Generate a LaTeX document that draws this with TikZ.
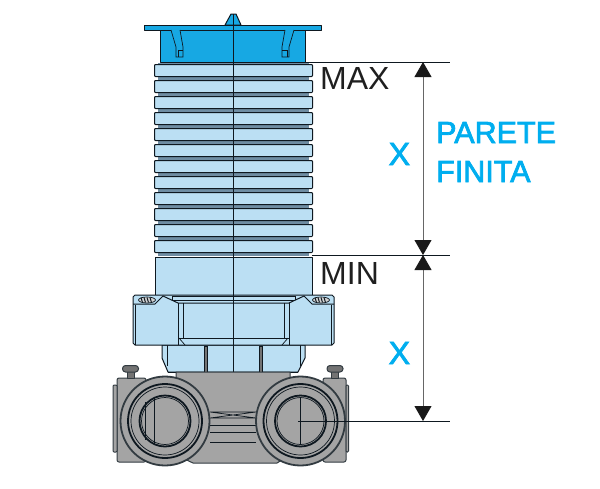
\documentclass[tikz,border=0pt]{standalone}
\usepackage{fontspec}
\setmainfont{Liberation Sans}
\newfontfamily\labelfont[FakeBold=2.5]{Liberation Sans}
\usetikzlibrary{arrows.meta, positioning, calc}
\definecolor{skin}{HTML}{BBDFF3}
\definecolor{cap}{HTML}{17A8E3}
\definecolor{groove}{HTML}{6F8DA3}
\definecolor{metal}{HTML}{A4A4A4}
\definecolor{ink}{HTML}{0E1820}
\definecolor{label}{HTML}{00AEEF}

\begin{document}
\begin{tikzpicture}[
  x=1pt, y=-1pt,
  part/.style={draw=ink, line width=1pt, line join=round},
  thin part/.style={draw=ink, line width=0.7pt},
  rib/.style={part, fill=skin, rounded corners=0.8pt},
  grey part/.style={draw=ink!85, fill=metal, line width=1pt, line join=round},
  ring/.style={draw=ink, line width=1.8pt},
  dim/.style={draw=black!60, line width=0.8pt},
  span/.style={dim, {Triangle[length=15pt, width=17pt, color=black!90]}-{Triangle[length=15pt, width=17pt, color=black!90]}},
  word/.style={font=\fontsize{32}{32}\selectfont, text=black!88, inner sep=0pt, anchor=base west},
  side/.style={font=\labelfont\fontsize{30.5}{30.5}\selectfont, text=label, inner sep=0pt, anchor=base west}
]
  \useasboundingbox (0,0) rectangle (600,488);

  % Top cap
  \draw[part, fill=cap] (160,30) rectangle (305,62);
  \draw[part, fill=cap] (225,25) -- (231,14) -- (236,14) -- (241,25) -- cycle;
  \draw[part, fill=cap] (144,25.5) rectangle (321,30);
  \foreach \m/\s in {177/1, 288/-1} {
    \draw[thin part, fill=cap] (\m-6*\s,30) -- (\m-1*\s,47) -- (\m-1*\s,57) -- (\m+6*\s,57)
      -- (\m+6*\s,47) -- (\m+3*\s,30);
    \draw[thin part] (\m+1*\s,57) -- (\m+1*\s,50) -- (\m+6*\s,50);
  }

  % Bellows
  \foreach \r in {0,...,11} {
    \fill[groove] (158,{62.5+16*\r}) rectangle (309,{80+16*\r});
    \draw[rib] (154.5,{64.5+16*\r}) rectangle (312.5,{76.5+16*\r});
  }
  \draw[part, fill=skin] (155,257) rectangle (312,295);

  % Lower pipe under the collar
  \draw[part, fill=skin] (162,345) -- (162,358) -- (168,372) -- (298,372) -- (305,358) -- (305,345) -- cycle;
  \draw[thin part] (167,345) -- (167,366) (300,345) -- (300,366);
  \draw[part] (168,372) -- (298,372);
  \foreach \m in {206, 261}
    \draw[thin part, fill=metal!70!black] (\m-1.8,346) rectangle (\m+1.8,372);

  % Collar
  \draw[part, fill=skin] (133,297) -- (135,295) -- (332,295) -- (334,297) -- (334,343)
    -- (332,345) -- (135,345) -- (133,343) -- cycle;
  \draw[thin part] (135,305) -- (135,345) (331.5,305) -- (331.5,345);
  \draw[part] (133,304) -- (155,304) -- (163,296) -- (178,303) -- (289,303) -- (304,296) -- (312,304) -- (334,304);
  \draw[part] (172,296) -- (295,296) (172,296) -- (172,300) (295,296) -- (295,300) (172,300) -- (295,300);
  \draw[part] (178,303) -- (178,345) (289,303) -- (289,345);
  \draw[thin part] (183,303) -- (183,338) (284,303) -- (284,338);
  \draw[part] (178,338) -- (289,338);
  \draw[thin part] (179,338) -- (185,345) (288,338) -- (282,345);
  \foreach \m in {147, 321} {
    \draw[thin part, fill=metal!50] (\m,300) ellipse[x radius=8.5pt, y radius=3pt];
    \foreach \d in {-6,-3,0,3}
      \draw[part] (\m+\d,297.5) -- (\m+\d+1.5,302.5);
  }

  % Axis of the riser
  \draw[thin part, line width=0.9pt] (233,14) -- (233,372);

  % Manifold body
  \draw[grey part, rounded corners=2pt] (117,378) rectangle (146,462);
  \draw[grey part, rounded corners=2pt] (323,378) rectangle (346,462);
  \draw[grey part, rounded corners=1pt] (113,385) rectangle (117,452);
  \draw[grey part, rounded corners=1pt] (346,385) rectangle (348.5,452);
  \draw[grey part] (176,372) -- (290,372) -- (290,455) -- (277,463) -- (193,463) -- (176,455) -- cycle;
  \foreach \m in {130.5, 335} {
    \draw[grey part, fill=metal!70!black] (\m-3.5,371) rectangle (\m+3.5,378);
    \draw[grey part, fill=metal!70!black, rounded corners=3pt] (\m-8,365.5) rectangle (\m+8,372);
  }
  \draw[thin part] (210,412) -- (256,412) (210,418) -- (256,418) (210,412) -- (256,418) (210,418) -- (256,412);
  \draw[thin part] (210,425) -- (256,425) (210,432) -- (256,432) (210,442) -- (256,442);
  \foreach \c in {165, 300.5} {
    \draw[grey part, line width=1.8pt] (\c,421) circle[radius=44.5pt];
    \draw[ring] (\c,421) circle[radius=37pt];
    \draw[thin part] (\c,421) circle[radius=34pt];
    \draw[ring] (\c,421) circle[radius=25.5pt];
    \draw[thin part] (\c,421) circle[radius=23.5pt];
  }
  \draw[thin part] (145,402) -- (145,440) (154,398) -- (154,444);
  \draw[thin part] (300,397.5) -- (300,444.5);

  % Dimensions
  \coordinate (capedge) at (305,62);
  \coordinate (maxend) at (450,62);
  \coordinate (minedge) at (312,255);
  \coordinate (minend) at (450,255);
  \coordinate (centre) at (298,421);
  \coordinate (lowend) at (450,421);
  \coordinate (maxtip) at (423,62);
  \coordinate (midtip) at (423,255);
  \coordinate (lowtip) at (423,421);
  \draw[dim, draw=ink] (capedge) -- (maxend);
  \draw[dim, draw=ink] (minedge) -- (minend);
  \draw[dim, draw=ink] (centre) -- (lowend);
  \draw[span] (maxtip) -- (midtip);
  \draw[span] (midtip) -- (lowtip);

  % Labels
  \node[word] (maxlabel) at (320,89) {MAX};
  \node[word] (minlabel) at (320,284) {MIN};
  \node[side, font=\labelfont\fontsize{32}{32}\selectfont] (upperx) at (388.5,165) {X};
  \node[side, font=\labelfont\fontsize{32}{32}\selectfont] (lowerx) at (388.5,364) {X};
  \node[side] (parete) at (436,143) {PARETE};
  \node[side] (finita) at (436,182) {FINITA};
\end{tikzpicture}
\end{document}
